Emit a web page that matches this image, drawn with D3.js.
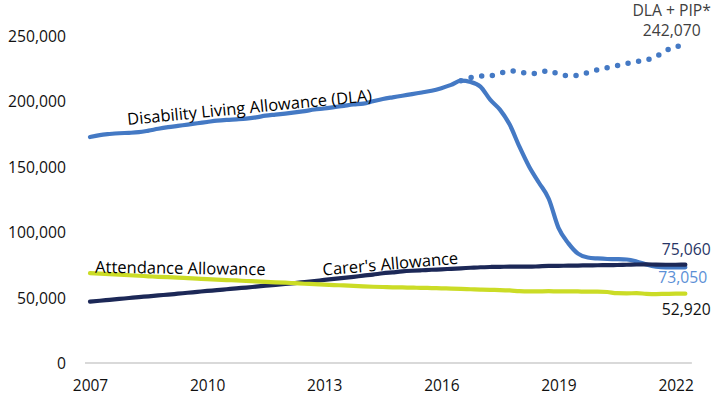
<!DOCTYPE html>
<html>
<head>
<meta charset="utf-8">
<script src="https://cdn.jsdelivr.net/npm/d3@7"></script>
<style>
  html, body { margin: 0; padding: 0; background: #fff; }
  svg { display: block; }
  text { font-family: "Open Sans", "Liberation Sans", sans-serif; }
</style>
</head>
<body>
<svg id="chart" width="713" height="396"></svg>
<script>
// ---- DATA (quarterly, Feb 2007 .. May 2022) ----
const startYear = 2007;
const quarters = d3.range(62).map(i => startYear + i / 4);

const dla = [
  172500, 174000, 174800, 175400, 175700, 176200, 177400, 178800,
  180000, 181000, 182000, 183000, 184000, 185000, 185600, 186000,
  186500, 187500, 188800, 189600, 190400, 191300, 192300, 193500,
  194300, 195300, 196300, 197300, 198000, 199800, 201500, 202800,
  204000, 205300, 206500, 207800, 209800, 212300, 215500, 214500,
  211000, 201000, 193400, 182000, 165100, 149800, 137600, 125400,
  103200, 91500, 83500, 80500, 79800, 79400, 79300, 79000,
  77500, 75200, 73500, 72900, 73000, 73050
];

// DLA + PIP combined, from the DLA peak (index 38) onwards
const dlaPipStart = 38;
const dlaPip = [
  215500, 217800, 219000, 219300, 221000, 223000, 222300, 220800,
  221600, 223200, 220400, 219400, 219600, 221800, 223900, 225500,
  227000, 228600, 230000, 231300, 234000, 238300, 241600, 242070
];

const carers = [
  46900, 47500, 48200, 48900, 49600, 50300, 50900, 51600,
  52200, 52900, 53600, 54300, 55000, 55600, 56300, 57000,
  57600, 58300, 59000, 59700, 60300, 61000, 61800, 62600,
  63400, 64200, 65000, 65800, 66700, 67500, 68500, 69200,
  69900, 70400, 70800, 71200, 71500, 71900, 72300, 72700,
  73100, 73300, 73400, 73600, 73600, 73500, 73800, 74100,
  74200, 74300, 74400, 74500, 74600, 74700, 74800, 75000,
  75200, 75300, 75100, 75000, 75000, 75060
];

const attendance = [
  68600, 68200, 67800, 67400, 67000, 66600, 66200, 65800,
  65500, 65200, 64800, 64400, 64000, 63700, 63300, 63000,
  62600, 62300, 61900, 61600, 61300, 60900, 60500, 60200,
  59800, 59500, 59200, 58900, 58500, 58200, 58000, 57800,
  57700, 57500, 57400, 57200, 57000, 56800, 56600, 56300,
  56000, 55800, 55700, 55400, 54800, 54600, 54700, 54800,
  54700, 54700, 54600, 54500, 54500, 54200, 53300, 53200,
  53300, 52800, 52600, 52800, 52900, 52920
];

const yTicks = [0, 50000, 100000, 150000, 200000, 250000];
const xTicks = [2007, 2010, 2013, 2016, 2019, 2022];

const seriesLabels = {
  dla: "Disability Living Allowance (DLA)",
  attendance: "Attendance Allowance",
  carers: "Carer's Allowance",
  dlaPip: "DLA + PIP*"
};

// ---- CHART ----
const svg = d3.select("#chart");
const fmt = d3.format(",");

const x = d3.scaleLinear().domain([2007, 2022]).range([90, 675.6]);
const y = d3.scaleLinear().domain([0, 250000]).range([363, 35.5]);

const colors = {
  dla: "#4479c4",
  carers: "#1c2857",
  attendance: "#cbdc26",
  grid: "#d9d9d9"
};

// baseline
svg.append("line")
  .attr("x1", x(2007) - 5).attr("x2", x(2022.25) + 6.5)
  .attr("y1", y(0)).attr("y2", y(0))
  .attr("stroke", colors.grid).attr("stroke-width", 2);

// Y axis
const yAxis = d3.axisLeft(y).tickValues(yTicks).tickFormat(fmt).tickSize(0).tickPadding(0);
const gy = svg.append("g").attr("transform", "translate(66,0)").call(yAxis);
gy.select(".domain").remove();
gy.selectAll("text").attr("font-size", "15.7px").attr("fill", "#111")
  .attr("font-family", "'Open Sans', sans-serif").attr("dy", "0.36em");

// X axis
const xAxis = d3.axisBottom(x).tickValues(xTicks).tickFormat(d3.format("d")).tickSize(0).tickPadding(0);
const gx = svg.append("g").attr("transform", "translate(0,390.5)").call(xAxis);
gx.select(".domain").remove();
gx.selectAll("text").attr("font-size", "15.5px").attr("fill", "#111")
  .attr("font-family", "'Open Sans', sans-serif").attr("y", 0).attr("dy", 0);

const line = d3.line()
  .x(d => x(d[0])).y(d => y(d[1]))
  .curve(d3.curveMonotoneX);

const pts = arr => arr.map((v, i) => [quarters[i], v]);

// DLA solid
svg.append("path")
  .datum(pts(dla))
  .attr("d", line)
  .attr("fill", "none").attr("stroke", colors.dla)
  .attr("stroke-width", 4.2).attr("stroke-linejoin", "round").attr("stroke-linecap", "round");

// DLA + PIP dotted
svg.append("path")
  .datum(dlaPip.map((v, i) => [quarters[i + dlaPipStart], v]))
  .attr("d", line)
  .attr("fill", "none").attr("stroke", colors.dla)
  .attr("stroke-width", 5.5).attr("stroke-linecap", "round")
  .attr("stroke-dasharray", "0 10.7");

// Carer's
svg.append("path")
  .datum(pts(carers))
  .attr("d", line)
  .attr("fill", "none").attr("stroke", colors.carers)
  .attr("stroke-width", 4.2).attr("stroke-linejoin", "round").attr("stroke-linecap", "round");

// Attendance
svg.append("path")
  .datum(pts(attendance))
  .attr("d", line)
  .attr("fill", "none").attr("stroke", colors.attendance)
  .attr("stroke-width", 4.2).attr("stroke-linejoin", "round").attr("stroke-linecap", "round");

// Series labels along lines
function rotLabel(text, yr, val, angle) {
  const px = x(yr), py = y(val);
  svg.append("text")
    .attr("transform", `translate(${px},${py}) rotate(${angle})`)
    .attr("font-size", "16.5px").attr("fill", "#000")
    .text(text);
}
rotLabel(seriesLabels.dla, 2007.97, 181600, -5.6);
rotLabel(seriesLabels.attendance, 2007.13, 68900, 0.8);
rotLabel(seriesLabels.carers, 2012.97, 66800, -5);

// End value labels
const lastYr = quarters[quarters.length - 1];
function endLabel(text, val, color, anchorX, anchor) {
  svg.append("text")
    .attr("x", anchorX).attr("y", y(val))
    .attr("text-anchor", anchor || "start")
    .attr("font-size", "15.7px").attr("fill", color)
    .text(text);
}
endLabel(seriesLabels.dlaPip, 265000, "#404040", x(2021.9), "middle");
endLabel(fmt(dlaPip[dlaPip.length - 1]), 249500, "#404040", x(2021.9), "middle");
endLabel(fmt(carers[carers.length - 1]), 82500, "#283566", x(lastYr) - 23.5);
endLabel(fmt(dla[dla.length - 1]), 61000, "#5b8fd6", x(lastYr) - 27);
endLabel(fmt(attendance[attendance.length - 1]), 36700, "#111", x(lastYr) - 23.5);
</script>
</body>
</html>
